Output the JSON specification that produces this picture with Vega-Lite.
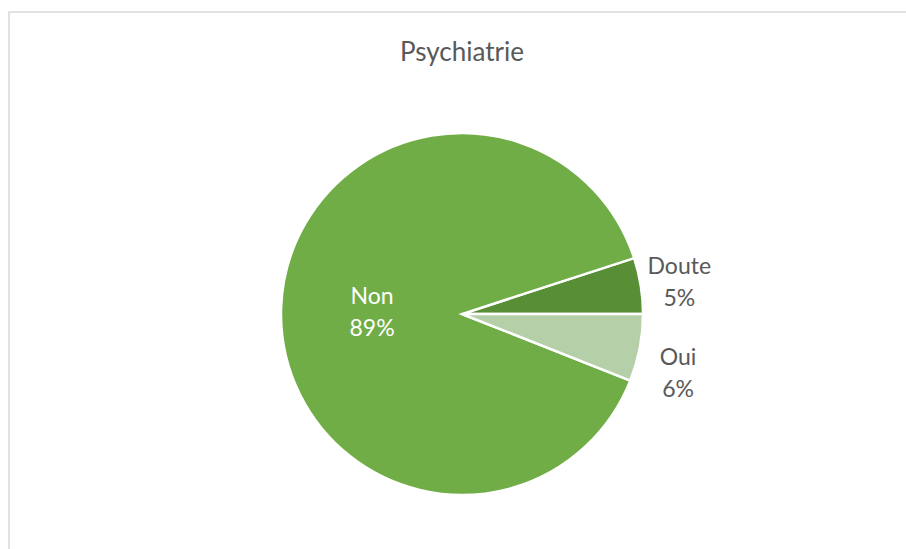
{
  "$schema": "https://vega.github.io/schema/vega-lite/v6.json",
  "width": 906,
  "height": 549,
  "autosize": {"type": "fit", "contains": "padding"},
  "padding": {"left": 9, "top": 12, "right": -9, "bottom": -67},
  "background": "white",
  "view": {"stroke": "#D9D9D9", "strokeWidth": 1.5},
  "title": {
    "text": "Psychiatrie",
    "font": "Lato",
    "fontSize": 26,
    "fontWeight": "normal",
    "color": "#595959",
    "anchor": "middle",
    "frame": "group",
    "baseline": "bottom",
    "offset": -80
  },
  "data": {
    "values": [
      {"category": "Doute", "value": 5},
      {"category": "Non", "value": 89},
      {"category": "Oui", "value": 6}
    ]
  },
  "transform": [
    {"calculate": "datum.category + '\\n' + datum.value + '%'", "as": "label"}
  ],
  "encoding": {
    "theta": {
      "field": "value",
      "type": "quantitative",
      "stack": true,
      "scale": {"range": [7.853981634, 1.570796327]}
    },
    "order": {"field": "category", "type": "nominal"}
  },
  "layer": [
    {
      "mark": {"type": "arc", "outerRadius": 181, "stroke": "white", "strokeWidth": 2.5},
      "encoding": {
        "color": {
          "field": "category",
          "type": "nominal",
          "scale": {"domain": ["Doute", "Non", "Oui"], "range": ["#588E36", "#70AD47", "#B5CFA8"]},
          "legend": null
        }
      }
    },
    {
      "mark": {"type": "text", "radius": 90, "dy": -14, "font": "Lato", "fontSize": 23, "color": "white", "lineHeight": 32, "baseline": "middle", "align": "center", "lineBreak": "\n"},
      "encoding": {
        "text": {"condition": {"test": "datum.category === 'Non'", "field": "label"}, "value": ""}
      }
    },
    {
      "mark": {"type": "text", "radius": 220, "dy": -13, "font": "Lato", "fontSize": 23, "color": "#595959", "lineHeight": 32, "baseline": "middle", "align": "center", "lineBreak": "\n"},
      "encoding": {
        "text": {"condition": {"test": "datum.category === 'Doute'", "field": "label"}, "value": ""}
      }
    },
    {
      "mark": {"type": "text", "radius": 220, "dy": 3, "font": "Lato", "fontSize": 23, "color": "#595959", "lineHeight": 32, "baseline": "middle", "align": "center", "lineBreak": "\n"},
      "encoding": {
        "text": {"condition": {"test": "datum.category === 'Oui'", "field": "label"}, "value": ""}
      }
    }
  ]
}
